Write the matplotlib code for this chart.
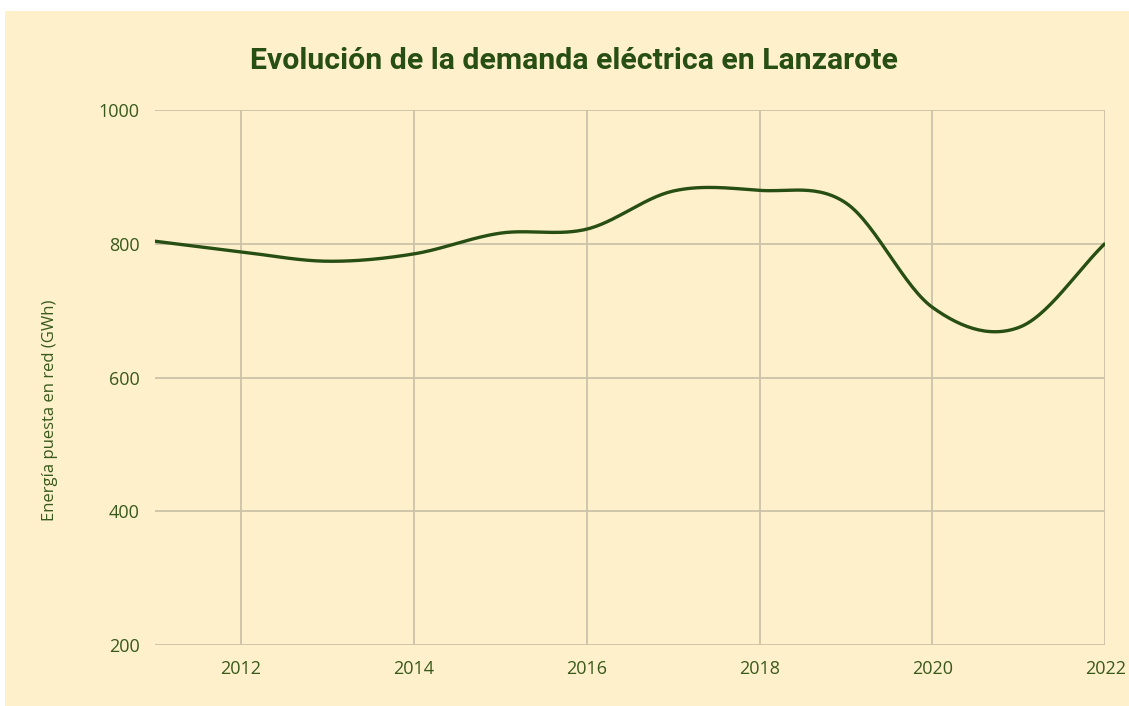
import numpy as np
import matplotlib.pyplot as plt
from matplotlib.patches import Rectangle

years = [2011, 2012, 2013, 2014, 2015, 2016, 2017, 2018, 2019, 2020, 2021, 2022]
demand = [804, 788, 774, 785, 816, 822, 879, 880, 861, 705, 675, 801]
y_ticks = [200, 400, 600, 800, 1000]
x_ticks = [2012, 2014, 2016, 2018, 2020, 2022]

BG = "#fff0cc"
GREEN = "#274e13"
TICK_GREEN = "#38591c"
GRID = "#cbc2a8"


def smooth(x, y, n=30):
    """Catmull-Rom style curve through the points (drawing only)."""
    x = np.asarray(x, float)
    y = np.asarray(y, float)
    m = np.zeros_like(y)
    m[1:-1] = (y[2:] - y[:-2]) / (x[2:] - x[:-2])
    m[0] = (y[1] - y[0]) / (x[1] - x[0])
    m[-1] = (y[-1] - y[-2]) / (x[-1] - x[-2])
    xs, ys = [], []
    for i in range(len(x) - 1):
        h = x[i + 1] - x[i]
        t = np.linspace(0, 1, n, endpoint=False)
        h00 = 2 * t**3 - 3 * t**2 + 1
        h10 = t**3 - 2 * t**2 + t
        h01 = -2 * t**3 + 3 * t**2
        h11 = t**3 - t**2
        xs.append(x[i] + t * h)
        ys.append(h00 * y[i] + h10 * h * m[i] + h01 * y[i + 1] + h11 * h * m[i + 1])
    xs.append([x[-1]])
    ys.append([y[-1]])
    return np.concatenate(xs), np.concatenate(ys)


fig = plt.figure(figsize=(11.29, 7.06), dpi=100)
fig.patch.set_facecolor("white")
fig.patches.append(Rectangle((5 / 1129, 0), 1, 1 - 11 / 706,
                             transform=fig.transFigure, facecolor=BG,
                             edgecolor="none", zorder=-10))

ax = fig.add_axes([0.137, 0.0864, 0.842, 0.7576])
ax.set_facecolor(BG)

sx, sy = smooth(years, demand)
ax.plot(sx, sy, color=GREEN, lw=2.4, solid_capstyle="butt", zorder=3)

ax.set_xlim(2011, 2022)
ax.set_ylim(200, 1000)
ax.set_xticks(x_ticks)
ax.set_yticks(y_ticks)
ax.grid(True, color=GRID, lw=1.3)
ax.set_axisbelow(True)
for s in ax.spines.values():
    s.set_visible(False)
ax.tick_params(length=0, pad=11, labelsize=13, labelcolor=TICK_GREEN)
for lab in ax.get_xticklabels() + ax.get_yticklabels():
    lab.set_family("Open Sans")

fig.text(50 / 1129, 1 - 410 / 706, "Energía puesta en red (GWh)",
         rotation=90, ha="center", va="center", fontsize=12,
         color=TICK_GREEN, family="Open Sans")

fig.text(0.508, 0.913, "Evolución de la demanda eléctrica en Lanzarote",
         ha="center", va="center", fontsize=21.8, fontweight="bold",
         color=GREEN, family="Roboto")

fig.savefig("out.png", dpi=100, facecolor=fig.get_facecolor())
